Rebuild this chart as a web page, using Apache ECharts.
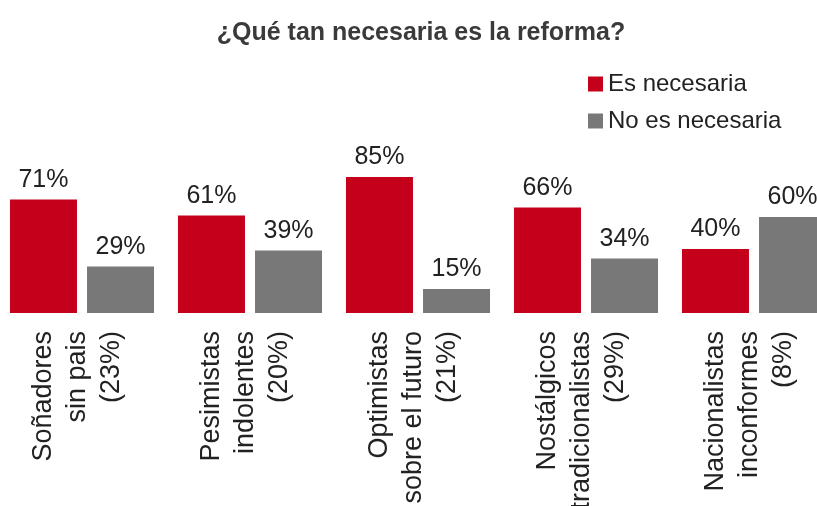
<!DOCTYPE html>
<html>
<head>
<meta charset="utf-8">
<script src="https://cdn.jsdelivr.net/npm/echarts@6/dist/echarts.min.js"></script>
<style>
html,body{margin:0;padding:0;background:#fff;}
#chart{width:817px;height:506px;}
</style>
</head>
<body>
<div id="chart"></div>
<script>
const categories = [
  "Soñadores\nsin pais\n(23%)",
  "Pesimistas\nindolentes\n(20%)",
  "Optimistas\nsobre el futuro\n(21%)",
  "Nostálgicos\ntradicionalistas\n(29%)",
  "Nacionalistas\ninconformes\n(8%)"
];
const esNecesaria = [71, 61, 85, 66, 40];
const noEsNecesaria = [29, 39, 15, 34, 60];
const seriesNames = ["Es necesaria", "No es necesaria"];

const FONT = "'Liberation Sans Narrow', 'Liberation Sans', Arial, sans-serif";
const chart = echarts.init(document.getElementById('chart'));
const valueLabel = {
  show: true,
  position: 'top',
  distance: 7,
  formatter: '{c}%',
  fontFamily: FONT,
  fontSize: 25,
  color: '#222'
};
chart.setOption({
  animation: false,
  title: {
    text: '¿Qué tan necesaria es la reforma?',
    left: 416,
    textAlign: 'center',
    top: 16,
    textStyle: { fontFamily: FONT, fontSize: 25, fontWeight: 'bold', color: '#3a3a3a' }
  },
  legend: {
    orient: 'vertical',
    left: 583,
    top: 66,
    icon: 'rect',
    itemWidth: 15,
    itemHeight: 15,
    itemGap: 11,
    textStyle: { fontFamily: FONT, fontSize: 24, lineHeight: 26, color: '#222' },
    data: seriesNames
  },
  grid: { left: -2, width: 840, top: 153, height: 160, containLabel: false, outerBoundsMode: 'none' },
  xAxis: {
    type: 'category',
    data: categories,
    axisLine: { show: false },
    axisTick: { show: false },
    axisLabel: {
      rotate: 90,
      interval: 0,
      margin: 18,
      fontFamily: FONT,
      fontSize: 27,
      lineHeight: 34,
      color: '#222',
      formatter: function (v) { return v + '\n{s| }'; },
      rich: { s: { fontSize: 8, lineHeight: 9 } }
    }
  },
  yAxis: { type: 'value', min: 0, max: 100, show: false, splitLine: { show: false } },
  series: [
    { name: seriesNames[0], type: 'bar', data: esNecesaria, barWidth: 67, barGap: '15%',
      itemStyle: { color: '#c5001b' }, label: valueLabel },
    { name: seriesNames[1], type: 'bar', data: noEsNecesaria, barWidth: 67, barGap: '15%',
      itemStyle: { color: '#787878' }, label: valueLabel }
  ]
});
</script>
</body>
</html>
